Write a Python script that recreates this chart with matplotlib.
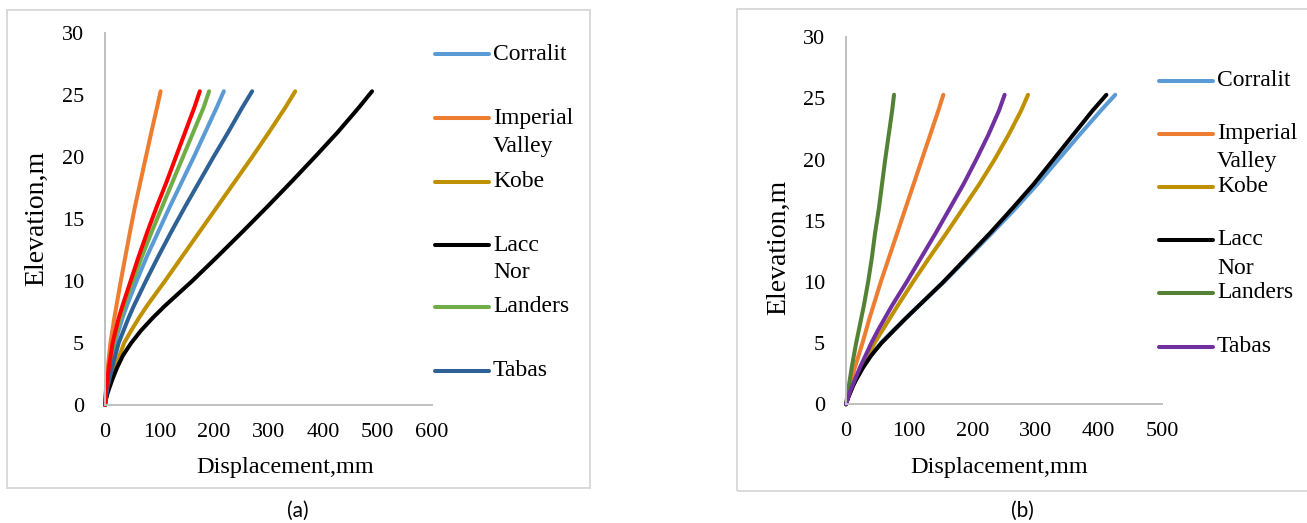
import matplotlib
matplotlib.use("Agg")
import matplotlib.pyplot as plt
from matplotlib.lines import Line2D
from matplotlib.patches import Rectangle

plt.rcParams['font.family'] = ['Liberation Serif', 'DejaVu Serif']

# ---------------- data ----------------
elevation = [0, 0.5, 1, 1.5, 2, 3, 4, 5, 6, 7, 8, 10, 12, 14, 16, 18, 20, 22, 24, 25.3]

names = ["Corralit", "Imperial\nValley", "Kobe", "Lacc\nNor", "Landers", "Tabas"]

# panel (a) displacements (mm)
a_corralit = [0, 1, 2.5, 4, 5.5, 9, 13, 18, 25, 32, 40, 58, 77, 98, 119, 141, 163, 184, 205, 218]
a_imperial = [0, 0.6, 1.3, 2, 3, 5, 7.5, 10, 13.5, 17, 21, 29, 37.5, 46, 55, 65, 75, 85, 95.5, 102]
a_kobe     = [0, 2, 4, 7, 11, 19, 27, 35, 48, 62, 77, 110, 142, 174, 206, 238, 270, 301, 331, 349]
a_lacc     = [0, 2, 5, 9, 13, 22, 33, 48, 66, 87, 110, 160, 207, 253, 298, 342, 385, 427, 466, 490]
a_landers  = [0, 1, 2, 3.3, 4.7, 8, 12, 16, 22, 28, 35, 51, 68, 86, 105, 124, 143, 162, 181, 191]
a_tabas    = [0, 1.5, 3, 5, 7.5, 13, 19, 25, 34, 43, 53, 75, 98, 122, 147, 173, 199, 226, 252, 270]
a_extra    = [0, 0.8, 1.7, 2.8, 4, 7, 10.5, 14, 19.5, 25, 32, 47, 62, 78, 95, 113, 130, 147, 164, 174]  # red, not in legend

# panel (b) displacements (mm)
b_corralit = [0, 3, 7, 11, 15, 26, 39, 55, 74, 94, 114, 155, 193, 231, 268, 303, 336, 369, 403, 426]
b_imperial = [0, 2, 4, 6.5, 9, 14, 20, 26, 31.5, 37, 43, 55, 68, 81, 94, 107, 120, 133, 146, 154]
b_kobe     = [0, 3, 7, 11, 15, 25, 35, 45, 57, 69, 81, 106, 132, 159, 185, 211, 235, 257, 277, 288]
b_lacc     = [0, 3, 7, 11, 16, 27, 40, 56, 75, 94, 114, 154, 191, 228, 263, 297, 328, 359, 390, 412]
b_landers  = [0, 1.5, 3, 4.5, 6, 9, 12.5, 16, 20, 24, 28, 35, 41, 46, 52, 57, 62, 67.5, 73, 76]
b_tabas    = [0, 3, 6, 10, 14, 22, 31, 40, 50, 61, 72, 96, 119, 142, 164, 186, 206, 225, 242, 251]

a_colors = ["#5B9BD5", "#ED7D31", "#BF9000", "#000000", "#70AD47", "#2E6196"]
a_extra_color = "#FF0000"
b_colors = ["#5B9BD5", "#ED7D31", "#BF9000", "#000000", "#548235", "#7030A0"]

a_xticks = [0, 100, 200, 300, 400, 500, 600]
b_xticks = [0, 100, 200, 300, 400, 500]
yticks = [0, 5, 10, 15, 20, 25, 30]

# ---------------- figure ----------------
W, H = 1307, 523
fig = plt.figure(figsize=(W / 100, H / 100), dpi=100)

def fx(px):
    return px / W

def fy(py):
    return 1 - py / H

# panel borders
for (x0, y0, x1, y1) in [(7, 10, 590, 488), (737, 9, 1312, 491)]:
    fig.add_artist(Rectangle((fx(x0), fy(y1)), fx(x1) - fx(x0), fy(y0) - fy(y1),
                             transform=fig.transFigure, fill=False,
                             edgecolor="#d9d9d9", linewidth=1.4))

def setup_axes(ax, xmax, xticks):
    ax.set_xlim(0, xmax)
    ax.set_ylim(0, 30)
    ax.set_xticks(xticks)
    ax.set_yticks(yticks)
    for s in ["top", "right"]:
        ax.spines[s].set_visible(False)
    for s in ["left", "bottom"]:
        ax.spines[s].set_color("#bfbfbf")
        ax.spines[s].set_linewidth(1.4)
    ax.tick_params(axis="both", length=0, labelsize=16)
    ax.tick_params(axis="y", pad=15)
    ax.tick_params(axis="x", pad=13)
    ax.patch.set_alpha(0)

LW = 2.9

# panel (a)
axa = fig.add_axes([fx(105), fy(405), fx(432) - fx(105), fy(33) - fy(405)])
setup_axes(axa, 600, a_xticks)
a_series = [a_corralit, a_imperial, a_kobe, a_lacc, a_landers, a_tabas]
for vals, c in zip(a_series, a_colors):
    axa.plot(vals, elevation, color=c, lw=LW, solid_capstyle="round",
             solid_joinstyle="round", clip_on=False)
axa.plot(a_extra, elevation, color=a_extra_color, lw=LW, solid_capstyle="round",
         solid_joinstyle="round", clip_on=False)

# panel (b)
axb = fig.add_axes([fx(846), fy(404.3), fx(1162) - fx(846), fy(37.3) - fy(404.3)])
setup_axes(axb, 500, b_xticks)
b_series = [b_corralit, b_imperial, b_kobe, b_lacc, b_landers, b_tabas]
for vals, c in zip(b_series, b_colors):
    axb.plot(vals, elevation, color=c, lw=LW, solid_capstyle="round",
             solid_joinstyle="round", clip_on=False)

# axis labels
fig.text(fx(37), fy(218), "Elevation,m", rotation=90, ha="center", va="center", fontsize=20)
fig.text(fx(779), fy(247), "Elevation,m", rotation=90, ha="center", va="center", fontsize=20)
fig.text(fx(285), fy(467), "Displacement,mm", ha="center", va="center", fontsize=17.5)
fig.text(fx(999), fy(467), "Displacement,mm", ha="center", va="center", fontsize=17.5)

# captions
fig.text(fx(298), fy(511), "(a)", ha="center", va="center", fontsize=15, family="Lato")
fig.text(fx(1022), fy(511), "(b)", ha="center", va="center", fontsize=15, family="Lato")

# legends (drawn manually, Excel-style with wrapped names)
def legend(hx0, hx1, tx, ys, colors):
    for name, c, yy in zip(names, colors, ys):
        fig.add_artist(Line2D([fx(hx0), fx(hx1)], [fy(yy), fy(yy)], transform=fig.transFigure,
                              color=c, lw=LW, solid_capstyle="round"))
        for k, line in enumerate(name.split("\n")):
            fig.text(fx(tx), fy(yy + 28 * k), line, ha="left", va="center", fontsize=17)

legend(435, 489, 493, [54.3, 118.3, 181.7, 245, 307, 371], a_colors)
legend(1159, 1213, 1217, [81, 134, 187, 240, 293, 347], b_colors)

fig.savefig("out.png", dpi=100)
